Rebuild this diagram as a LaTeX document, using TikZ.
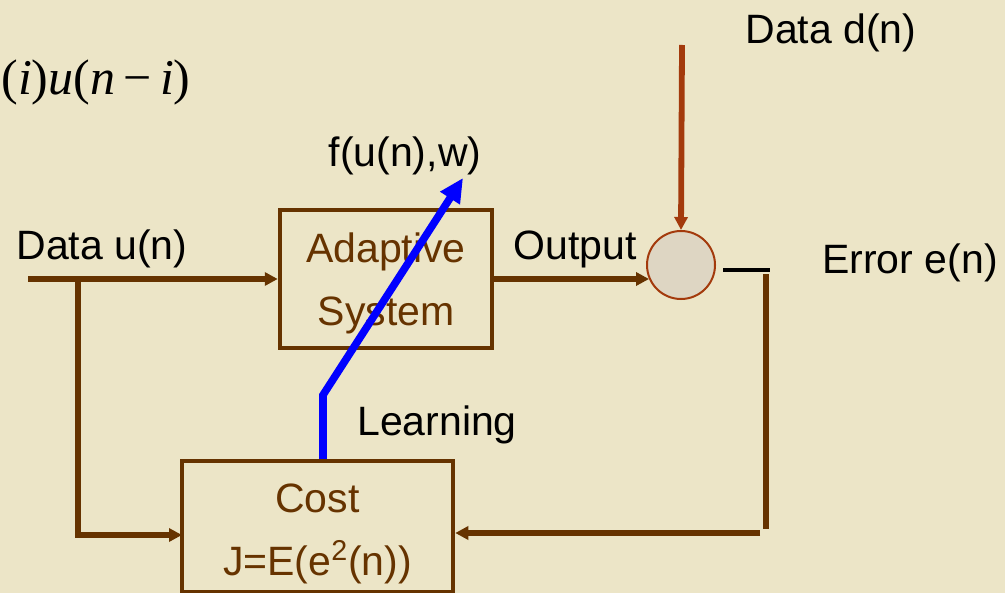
\documentclass[tikz,border=0pt]{standalone}
\usepackage{fontspec}
\setmainfont{Liberation Sans}
\newfontfamily\mathserif{Liberation Serif}
\usetikzlibrary{arrows.meta,positioning}
\definecolor{adbrown}{HTML}{663300}
\definecolor{adrust}{HTML}{A33A0C}
\definecolor{adpaper}{HTML}{ECE5C7}
\definecolor{adsum}{HTML}{DED6C3}

\begin{document}
\begin{tikzpicture}[
  x=0.5pt, y=-0.5pt,
  box/.style={draw=adbrown, line width=2.25pt, text=adbrown, align=center,
              inner sep=0pt, font=\fontsize{20.5}{31.5}\selectfont},
  lbl/.style={anchor=base, inner sep=0pt, font=\fontsize{20.5}{24}\selectfont},
  wire/.style={draw=adbrown, line width=2.75pt},
  flow/.style={wire, -{Triangle[length=6.5pt,width=6.5pt]}},
  learn/.style={draw=blue, line width=3.8pt, -{Triangle[length=12pt,width=11pt]}},
]
\path[use as bounding box, fill=adpaper] (0,0) rectangle (1005,593);

% blocks
\node[box, minimum width=106pt, minimum height=69pt] (adapt) at (386,279)
  {\rule{0pt}{19pt}Adaptive\\System};
\node[box, minimum width=135.5pt, minimum height=65.5pt] (cost) at (317.5,526.5)
  {\rule{0pt}{22pt}Cost\\J=E(e\textsuperscript{2}(n))};
\node[circle, draw=adrust, line width=1pt, fill=adsum, minimum size=34pt, inner sep=0pt] (sum) at (681,265) {};

% free ends
\coordinate (uin) at (28,279);
\coordinate (split) at (78,279);
\coordinate (cin) at (182,535);
\coordinate (din) at (682,45);
\coordinate (eout) at (723,270);
\coordinate (ecorner) at (770,270);
\coordinate (etop) at (766,274);
\coordinate (ebot) at (766,529);
\coordinate (eback) at (760,533);
\coordinate (lknee) at (323,395);
\coordinate (ltip) at (463,178);

% labels
\node[lbl] (udata) at (102,259) {Data u(n)};
\node[lbl] (outlbl) at (575,259) {Output};
\node[lbl] (ddata) at (831,44) {Data d(n)};
\node[lbl] (errlbl) at (910,273) {Error e(n)};
\node[lbl] (flbl) at (405,167) {f(u(n),w)};
\node[lbl] (learnlbl) at (437,435) {Learning};
\node[anchor=base west, inner sep=0pt, font=\mathserif\fontsize{25}{30}\selectfont] (filt) at (1,95)
  {(\textit{i})\textit{u}(\textit{n}\,−\,\textit{i})};

% connectors
\draw[flow] (uin) -- (adapt.west);
\draw[flow] (split) |- (cin);
\draw[flow] (adapt.east) -- (adapt.east -| sum.204);
\draw[flow, draw=adrust, line width=2.9pt] (din) -- (sum.north);
\draw[line width=2pt] (eout) -- (ecorner);
\draw[wire] (etop) -- (ebot);
\draw[flow] (eback) -- (cost.east |- eback);
\draw[learn] (cost.north -| lknee) -- (lknee) -- (ltip);
\end{tikzpicture}
\end{document}
